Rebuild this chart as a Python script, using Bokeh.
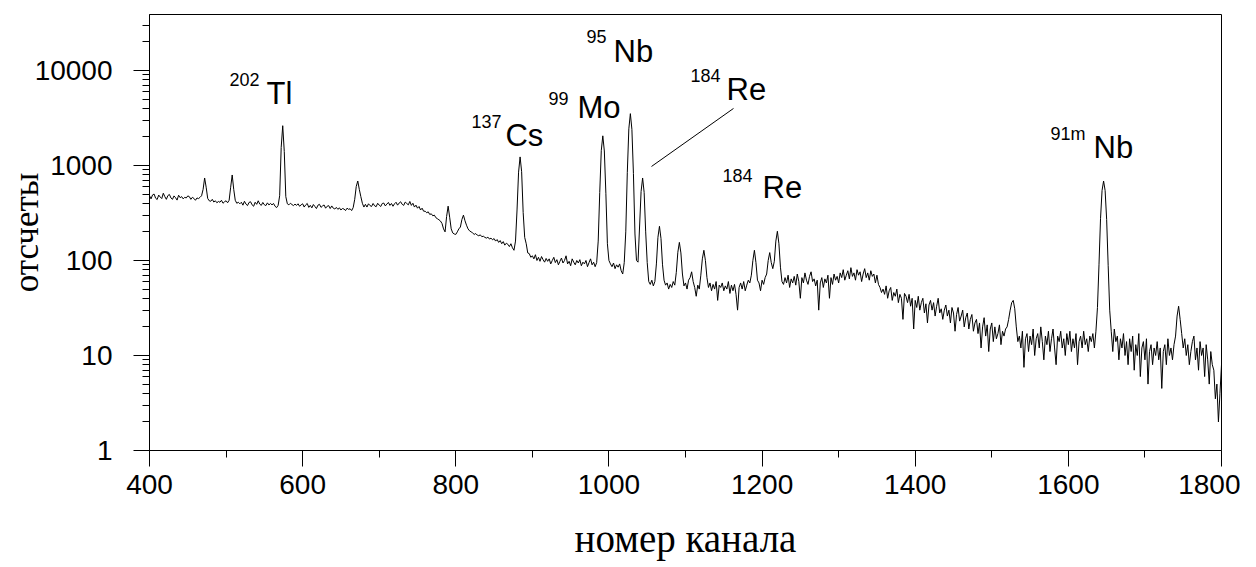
from bokeh.plotting import figure
from bokeh.models import ColumnDataSource, FixedTicker, PrintfTickFormatter, Range1d
from bokeh.core.properties import value
from bokeh.embed import file_html
from bokeh.resources import INLINE

# ---- spectrum: counts per channel, channels 400..1800 every 2 channels ----
channel_start = 400
channel_step = 2
counts = [
    # 400-438
    480, 445, 490, 500, 452, 438, 488, 465, 448, 510, 470, 440, 482, 495, 455, 440, 478, 458, 432, 486,
    # 440-478
    458, 470, 445, 462, 455, 478, 470, 440, 462, 450, 430, 455, 448, 462, 480, 560, 738, 590, 450, 425,
    # 480-518
    420, 440, 412, 425, 405, 418, 410, 430, 400, 415, 425, 405, 430, 590, 794, 560, 430, 400, 410, 395,
    # 520-558
    410, 382, 420, 392, 378, 408, 415, 385, 372, 410, 390, 425, 392, 380, 408, 386, 378, 404, 384, 398,
    # 560-598
    385, 398, 372, 360, 380, 480, 1550, 2620, 1400, 470, 395, 385, 400, 388, 378, 392, 380, 395, 372, 385,
    # 600-638
    395, 365, 385, 398, 362, 380, 358, 388, 370, 352, 382, 390, 362, 375, 384, 355, 372, 378, 352, 375,
    # 640-678
    355, 348, 362, 345, 358, 340, 352, 348, 335, 355, 345, 350, 335, 360, 440, 600, 686, 560, 470, 400,
    # 680-718
    365, 390, 365, 395, 378, 370, 398, 376, 368, 400, 382, 370, 398, 402, 375, 392, 408, 380, 398, 372,
    # 720-758
    395, 410, 382, 402, 415, 390, 380, 412, 398, 385, 418, 380, 400, 365, 382, 355, 370, 340, 355, 330,
    # 760-798
    330, 318, 325, 305, 310, 295, 300, 282, 275, 268, 260, 245, 215, 200, 290, 373, 285, 215, 195, 190,
    # 800-838
    188, 200, 215, 225, 270, 300, 262, 235, 215, 205, 200, 195, 188, 192, 185, 182, 186, 178, 180, 175,
    # 840-878
    172, 176, 168, 172, 165, 170, 160, 166, 155, 162, 150, 158, 145, 152, 148, 140, 150, 136, 128, 160,
    # 880-918
    340, 850, 1230, 860, 320, 175, 150, 120, 118, 108, 112, 104, 115, 100, 108, 98, 110, 102, 96, 105,
    # 920-958
    98, 104, 92, 100, 108, 95, 102, 90, 98, 106, 94, 100, 112, 92, 98, 88, 104, 96, 90, 100,
    # 960-998
    94, 102, 88, 96, 92, 100, 86, 95, 104, 90, 96, 86, 95, 160, 520, 1430, 2050, 1420, 510, 150,
    # 1000-1038
    100, 92, 86, 94, 82, 90, 85, 92, 78, 72, 95, 200, 840, 2430, 3510, 2400, 820, 190, 100, 96,
    # 1040-1078
    225, 532, 738, 520, 200, 95, 60, 56, 62, 54, 60, 92, 175, 229, 170, 90, 62, 55, 58, 50,
    # 1080-1118
    56, 52, 60, 55, 75, 122, 155, 120, 72, 54, 58, 50, 62, 66, 76, 60, 52, 42, 55, 50,
    # 1120-1158
    70, 104, 128, 100, 66, 52, 58, 48, 56, 50, 60, 38, 55, 52, 58, 48, 54, 50, 60, 45,
    # 1160-1198
    55, 48, 56, 44, 30, 52, 58, 50, 60, 48, 55, 62, 58, 70, 100, 128, 95, 62, 58, 48,
    # 1200-1238
    62, 56, 66, 72, 100, 121, 95, 82, 98, 160, 203, 150, 85, 60, 56, 66, 58, 70, 52, 64,
    # 1240-1278
    58, 68, 55, 72, 60, 40, 66, 58, 74, 62, 56, 68, 76, 60, 64, 54, 62, 30, 58, 66,
    # 1280-1318
    52, 64, 58, 70, 40, 66, 56, 72, 62, 68, 58, 74, 66, 80, 62, 70, 78, 64, 84, 68,
    # 1320-1358
    74, 62, 80, 70, 76, 60, 72, 82, 66, 74, 62, 78, 68, 72, 58, 70, 56, 52, 46, 50,
    # 1360-1398
    44, 54, 40, 48, 52, 38, 46, 42, 50, 36, 44, 40, 24, 45, 42, 36, 44, 33, 40, 19,
    # 1400-1438
    38, 32, 42, 30, 36, 40, 28, 35, 22, 34, 38, 30, 36, 26, 33, 40, 28, 31, 24, 30,
    # 1440-1478
    34, 26, 30, 22, 32, 28, 18, 27, 32, 23, 26, 30, 20, 25, 28, 19, 24, 27, 18, 22,
    # 1480-1518
    24, 17, 22, 12, 20, 25, 16, 21, 11, 19, 22, 14, 20, 15, 17, 21, 13, 18, 16, 19,
    # 1520-1558
    20, 24, 30, 36, 38, 31, 20, 14, 16, 12, 18, 7.5, 15, 17, 11, 16, 13, 19, 10, 15,
    # 1560-1598
    17, 12, 20, 14, 9, 16, 13, 18, 11, 15, 19, 12, 8, 16, 14, 18, 12, 15, 10, 17,
    # 1600-1638
    13, 18, 11, 15, 12, 17, 8, 14, 16, 12, 18, 13, 15, 11, 16, 14, 17, 12, 18, 32,
    # 1640-1678
    90, 275, 545, 686, 545, 270, 88, 30, 18, 11, 19, 14, 16, 9, 15, 12, 17, 10, 14, 8,
    # 1680-1718
    15, 11, 16, 7, 13, 10, 17, 6, 12, 14, 9, 15, 5, 11, 13, 8, 12, 10, 14, 9,
    # 1720-1758
    12, 4.5, 11, 13, 8, 15, 10, 12, 9, 13, 16, 26, 33, 24, 17, 12, 15, 10, 13, 8,
    # 1760-1798
    11, 14, 16, 9, 12, 7, 14, 10, 12, 6, 13, 9, 5, 11, 8, 7, 3.5, 5, 2, 4,
    # 1800
    8,
]
channels = [channel_start + channel_step * i for i in range(len(counts))]

# ---- isotope annotations ----
iso_mass = ["202", "137", "99", "95", "184", "184", "91m"]
iso_elem = ["Tl", "Cs", "Mo", "Nb", "Re", "Re", "Nb"]
# label anchor positions (data coordinates: channel, counts)
mass_x = [504.5, 820.5, 921.0, 970.7, 1106.5, 1148.3, 1576.7]
mass_y = [7944, 2867, 5013, 22510, 8752, 775, 2145]
elem_x = [552.8, 864.9, 959.0, 1006.0, 1153.6, 1200.6, 1632.9]
elem_y = [5727, 2070, 4081, 15855, 6308, 588, 1548]
leader_x = [1055.6, 1162.7]
leader_y = [976, 3981]

x_ticks = [400, 600, 800, 1000, 1200, 1400, 1600, 1800]
x_minor = [500, 700, 900, 1100, 1300, 1500, 1700]
y_ticks = [1, 10, 100, 1000, 10000]
y_minor = [m * 10 ** k for k in range(0, 5) for m in range(2, 10)]

x_title = "номер канала"
y_title = "отсчеты"

p = figure(width=1240, height=565,
           x_range=Range1d(400, 1800), y_range=Range1d(1, 38800),
           y_axis_type="log", output_backend="svg", toolbar_location=None,
           min_border_left=149, min_border_right=19, min_border_top=14, min_border_bottom=115)
p.background_fill_color = "white"
p.border_fill_color = "white"
p.outline_line_color = "black"
p.outline_line_width = 1
p.xgrid.visible = False
p.ygrid.visible = False

src = ColumnDataSource(dict(ch=channels, cnt=counts))
p.line("ch", "cnt", source=src, line_color="black", line_width=1)

p.line(leader_x, leader_y, line_color="black", line_width=1)

ann = ColumnDataSource(dict(mx=mass_x, my=mass_y, mt=iso_mass, ex=elem_x, ey=elem_y, et=iso_elem))
p.text("mx", "my", text="mt", source=ann, text_font=value("Liberation Sans"),
       text_font_size="18px", text_color="black", text_align="left", text_baseline="alphabetic")
p.text("ex", "ey", text="et", source=ann, text_font=value("Liberation Sans"),
       text_font_size="31px", text_color="black", text_align="left", text_baseline="alphabetic")

xa = p.xaxis[0]
xa.ticker = FixedTicker(ticks=x_ticks, minor_ticks=x_minor)
xa.major_tick_out = 16
xa.major_tick_in = 0
xa.minor_tick_out = 7
xa.minor_tick_in = 0
xa.major_label_standoff = 8
xa.major_label_text_font = "Liberation Sans"
xa.major_label_text_font_size = "28px"
xa.major_label_text_color = "black"
xa.axis_line_color = "black"
xa.major_tick_line_color = "black"
xa.minor_tick_line_color = "black"
xa.axis_label = x_title
xa.axis_label_text_font = "Liberation Serif"
xa.axis_label_text_font_size = "39px"
xa.axis_label_text_font_style = "normal"
xa.axis_label_text_color = "black"
xa.axis_label_standoff = 20

ya = p.yaxis[0]
ya.ticker = FixedTicker(ticks=y_ticks, minor_ticks=y_minor)
ya.formatter = PrintfTickFormatter(format="%d")
ya.major_tick_out = 16
ya.major_tick_in = 0
ya.minor_tick_out = 7
ya.minor_tick_in = 0
ya.major_label_standoff = 21
ya.major_label_text_font = "Liberation Sans"
ya.major_label_text_font_size = "28px"
ya.major_label_text_color = "black"
ya.axis_line_color = "black"
ya.major_tick_line_color = "black"
ya.minor_tick_line_color = "black"
ya.axis_label = y_title
ya.axis_label_text_font = "Liberation Serif"
ya.axis_label_text_font_size = "35px"
ya.axis_label_text_font_style = "normal"
ya.axis_label_text_color = "black"
ya.axis_label_standoff = -14

open("out.html", "w").write(file_html(p, INLINE))
